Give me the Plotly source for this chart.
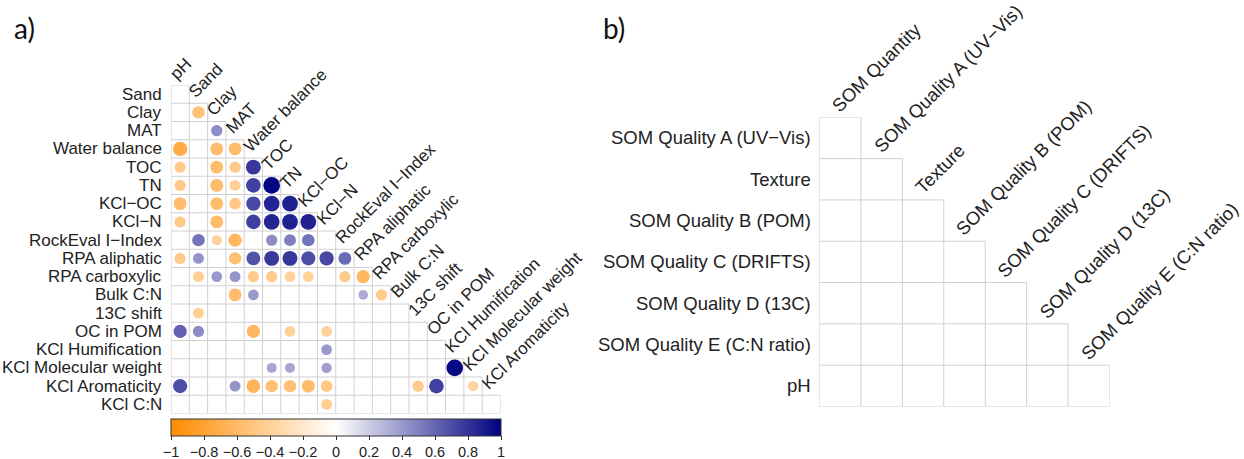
import math
import plotly.graph_objects as go

W, H = 1244, 459
FONT = "Liberation Sans, Arial, sans-serif"
TEXT_COLOR = "#222222"
GRID_COLOR = "#D0D0D0"

# ---------------- panel a: correlation matrix of soil variables ----------------
variables_a = ["pH", "Sand", "Clay", "MAT", "Water balance", "TOC", "TN", "KCl−OC", "KCl−N",
               "RockEval I−Index", "RPA aliphatic", "RPA carboxylic", "Bulk C:N", "13C shift",
               "OC in POM", "KCl Humification", "KCl Molecular weight", "KCl Aromaticity",
               "KCl C:N"]

# lower-triangle rows (row variable vs. pH, Sand, ...); None = not significant
r_sand = [None]
r_clay = [None, -0.55]
r_mat = [None, None, 0.45]
r_water_balance = [-0.72, None, -0.58, -0.58]
r_toc = [-0.45, None, -0.58, -0.45, 0.78]
r_tn = [-0.45, None, -0.58, -0.42, 0.75, 0.98]
r_kcl_oc = [-0.58, None, -0.58, -0.48, 0.72, 0.86, 0.87]
r_kcl_n = [-0.45, None, -0.58, None, 0.75, 0.86, 0.87, 0.87]
r_rockeval = [None, 0.55, -0.38, -0.62, None, 0.45, 0.5, 0.55, None]
r_rpa_aliphatic = [-0.45, 0.42, None, -0.55, 0.68, 0.78, 0.78, 0.7, 0.72, 0.58]
r_rpa_carboxylic = [None, -0.42, 0.4, 0.42, -0.45, -0.45, -0.4, -0.4, None, -0.45, -0.62]
r_bulk_cn = [None, None, None, -0.58, 0.4, None, None, None, None, None, 0.33, -0.45]
r_13c_shift = [None, -0.42, None, None, None, None, None, None, None, None, None, None, None]
r_oc_pom = [0.62, 0.45, None, None, -0.62, None, -0.4, None, -0.4, None, None, None, None,
            None]
r_kcl_humification = [None, None, None, None, None, None, None, None, 0.4, None, None, None,
                      None, None, None]
r_kcl_mol_weight = [None, None, None, None, None, 0.35, 0.35, None, 0.38, None, None, None,
                    None, None, None, 0.97]
r_kcl_aromaticity = [0.7, None, None, 0.42, -0.65, -0.55, -0.55, -0.58, -0.48, None, None,
                     None, None, -0.45, 0.75, None, -0.38]
r_kcl_cn = [None, None, None, None, None, None, None, None, -0.42, None, None, None, None,
            None, None, None, None, None]

rows_a = [r_sand, r_clay, r_mat, r_water_balance, r_toc, r_tn, r_kcl_oc, r_kcl_n, r_rockeval,
          r_rpa_aliphatic, r_rpa_carboxylic, r_bulk_cn, r_13c_shift, r_oc_pom,
          r_kcl_humification, r_kcl_mol_weight, r_kcl_aromaticity, r_kcl_cn]

# ---------------- panel b: correlation matrix of variable groups ----------------
variables_b = ["SOM Quantity", "SOM Quality A (UV−Vis)", "Texture", "SOM Quality B (POM)",
               "SOM Quality C (DRIFTS)", "SOM Quality D (13C)", "SOM Quality E (C:N ratio)",
               "pH"]
rb_quality_a = [None]
rb_texture = [None, None]
rb_quality_b = [None, None, None]
rb_quality_c = [None, None, None, None]
rb_quality_d = [None, None, None, None, None]
rb_quality_e = [None, None, None, None, None, None]
rb_ph = [None, None, None, None, None, None, None]
rows_b = [rb_quality_a, rb_texture, rb_quality_b, rb_quality_c, rb_quality_d, rb_quality_e,
          rb_ph]

cbar_ticks = [-1, -0.8, -0.6, -0.4, -0.2, 0, 0.2, 0.4, 0.6, 0.8, 1]
cbar_labels = ["−1", "−0.8", "−0.6", "−0.4", "−0.2", "0", "0.2", "0.4", "0.6", "0.8", "1"]

colorscale = [[0.0, "#FF8C00"], [0.5, "#FFFFFF"], [1.0, "#000080"]]

# pixel layout of the two panels
A_LEFT, A_RIGHT, A_TOP, A_BOTTOM = 171, 500.5, 85, 413.5
B_LEFT, B_RIGHT, B_TOP, B_BOTTOM = 819.5, 1109.5, 117.3, 406.5

# advance widths (1/1000 em) of the sans-serif face, used to centre rotated labels
GLYPH_W = {" ": 278, "(": 333, ")": 333, "−": 584, ".": 278, ":": 278, "1": 556, "3": 556,
           "A": 667, "B": 667, "C": 722, "D": 722, "E": 667, "F": 611, "H": 722, "I": 278,
           "K": 667, "M": 833, "N": 722, "O": 778, "P": 667, "Q": 778, "R": 722, "S": 667,
           "T": 611, "U": 722, "V": 667, "W": 944, "a": 556, "b": 556, "c": 500, "d": 556,
           "e": 556, "f": 278, "g": 556, "h": 556, "i": 222, "l": 222, "m": 833, "n": 556,
           "o": 556, "p": 556, "r": 333, "s": 500, "t": 278, "u": 556, "v": 500, "w": 722,
           "x": 500, "y": 500}


def text_width(s, size):
    return sum(GLYPH_W.get(ch, 556) for ch in s) * size / 1000.0


def grid_segments(n):
    """Cell borders of a lower triangle with n rows (row i holds columns 1..i)."""
    xs, ys = [], []
    for k in range(n + 1):  # vertical borders
        xs += [k + 0.5, k + 0.5, None]
        ys += [max(k, 1) - 0.5, n + 0.5, None]
    for r in range(n + 1):  # horizontal borders
        xs += [0.5, min(r + 1, n) + 0.5, None]
        ys += [r + 0.5, r + 0.5, None]
    return xs, ys


def colorbar_spec(left, right, top, thickness, font_size):
    return dict(orientation="h", thickness=thickness, thicknessmode="pixels",
                len=right - left, lenmode="pixels",
                x=left / W, xanchor="left", xpad=0,
                y=1 - top / H, yanchor="top", ypad=0,
                outlinewidth=1, outlinecolor="#333333",
                tickvals=cbar_ticks, ticktext=cbar_labels, tickangle=0,
                ticks="outside", ticklen=4, tickcolor="#333333",
                tickfont=dict(family=FONT, size=font_size, color=TEXT_COLOR))


fig = go.Figure()

# grid of panel a
gx, gy = grid_segments(len(rows_a))
fig.add_trace(go.Scatter(x=gx, y=gy, mode="lines", line=dict(color=GRID_COLOR, width=1),
                         hoverinfo="skip", showlegend=False, xaxis="x", yaxis="y"))

# circles of panel a: area proportional to |r|
cell_a = (A_RIGHT - A_LEFT) / len(rows_a)
cx, cy, cv, cs, ct = [], [], [], [], []
for i, row in enumerate(rows_a):
    for j, v in enumerate(row):
        if v is None:
            continue
        cx.append(j + 1)
        cy.append(i + 1)
        cv.append(v)
        cs.append(0.92 * cell_a * math.sqrt(abs(v)))
        ct.append(f"{variables_a[i + 1]} / {variables_a[j]}: {v}")

fig.add_trace(go.Scatter(
    x=cx, y=cy, mode="markers", text=ct, hoverinfo="text", showlegend=False,
    xaxis="x", yaxis="y",
    marker=dict(size=cs, color=cv, colorscale=colorscale, cmin=-1, cmax=1,
                line=dict(width=0), opacity=1,
                colorbar=colorbar_spec(A_LEFT, A_RIGHT, 419, 17, 14.5)),
))

# grid of panel b
gx, gy = grid_segments(len(rows_b))
fig.add_trace(go.Scatter(x=gx, y=gy, mode="lines", line=dict(color=GRID_COLOR, width=1),
                         hoverinfo="skip", showlegend=False, xaxis="x2", yaxis="y2"))

# panel b matrix (no significant cells) with its colour bar
zb = [[row[j] if j < len(row) else None for j in range(len(rows_b))] for row in rows_b]
fig.add_trace(go.Heatmap(
    z=zb, x=list(range(1, len(rows_b) + 1)), y=list(range(1, len(rows_b) + 1)),
    zmin=-1, zmax=1, colorscale=colorscale, xaxis="x2", yaxis="y2", hoverinfo="skip",
    colorbar=colorbar_spec(B_LEFT, B_RIGHT, 412.7, 22, 14.3),
))

annotations = []
C45 = math.sqrt(0.5)


def add_labels(row_names, col_names, yref, left_px, top_px, cell_w, cell_h, size, dx, dy):
    """Row labels right-aligned left of the grid; column labels at 45 degrees, their
    baseline starting just above the first cell of each column."""
    for i, name in enumerate(row_names):
        annotations.append(dict(text=name, x=(left_px - 7) / W, xref="paper", xanchor="right",
                                y=i + 1, yref=yref, yanchor="middle", showarrow=False,
                                font=dict(family=FONT, size=size, color=TEXT_COLOR)))
    for j, name in enumerate(col_names):
        w = text_width(name, size)
        px = left_px + (j + 0.5) * cell_w + dx        # baseline start (pixels)
        py = top_px + j * cell_h + dy
        cxp = px + C45 * (w / 2 - 0.3 * size)          # centre of the rotated text
        cyp = py - C45 * (w / 2 + 0.3 * size)
        annotations.append(dict(text=name, x=cxp / W, xref="paper", xanchor="center",
                                y=1 - cyp / H, yref="paper", yanchor="middle",
                                textangle=-45, showarrow=False,
                                font=dict(family=FONT, size=size, color=TEXT_COLOR)))


add_labels(variables_a[1:], variables_a[:-1], "y", A_LEFT, A_TOP,
           (A_RIGHT - A_LEFT) / len(rows_a), (A_BOTTOM - A_TOP) / len(rows_a), 17, -3, -5)
add_labels(variables_b[1:], variables_b[:-1], "y2", B_LEFT, B_TOP,
           (B_RIGHT - B_LEFT) / len(rows_b), (B_BOTTOM - B_TOP) / len(rows_b), 18.5, -1, -5)

# panel letters
for letter, xpx in (("a)", 12), ("b)", 601)):
    annotations.append(dict(text=letter, x=xpx / W, xref="paper", xanchor="left",
                            y=1 - 28 / H, yref="paper", yanchor="middle", showarrow=False,
                            font=dict(family="Lato, Carlito, sans-serif", size=28,
                                      color="#111111")))

axis_common = dict(visible=False, showgrid=False, zeroline=False, fixedrange=True)
fig.update_layout(
    width=W, height=H, margin=dict(l=0, r=0, t=0, b=0, autoexpand=False),
    paper_bgcolor="white", plot_bgcolor="white", showlegend=False,
    xaxis=dict(domain=[A_LEFT / W, A_RIGHT / W], range=[0.5, len(rows_a) + 0.5],
               anchor="y", **axis_common),
    yaxis=dict(domain=[1 - A_BOTTOM / H, 1 - A_TOP / H], range=[len(rows_a) + 0.5, 0.5],
               anchor="x", **axis_common),
    xaxis2=dict(domain=[B_LEFT / W, B_RIGHT / W], range=[0.5, len(rows_b) + 0.5],
                anchor="y2", **axis_common),
    yaxis2=dict(domain=[1 - B_BOTTOM / H, 1 - B_TOP / H], range=[len(rows_b) + 0.5, 0.5],
                anchor="x2", **axis_common),
    annotations=annotations,
)

fig.write_html("out.html")
